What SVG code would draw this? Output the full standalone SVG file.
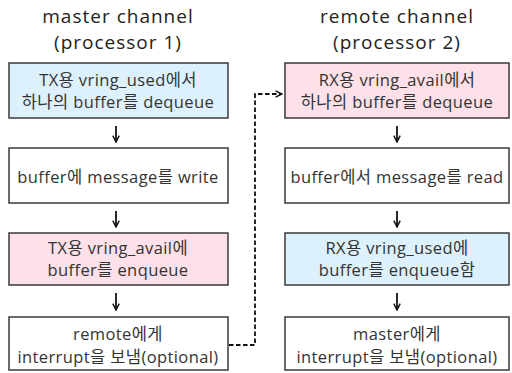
<svg xmlns="http://www.w3.org/2000/svg" width="512" height="373" viewBox="0 0 512 373">
<defs>
<style>
.box{stroke:#3a3a3a;stroke-width:1.5}
.w{fill:#ffffff}
.b{fill:#ddf1fc}
.p{fill:#fde0e8}
text{font-family:"Open Sans","Noto Sans CJK KR",sans-serif;fill:#333333;text-anchor:middle;dominant-baseline:central}
.t{font-size:19px;fill:#222222;letter-spacing:1px}
.l{font-size:16.5px;letter-spacing:0.4px}
.arr{stroke:#111111;stroke-width:1.8;fill:none}
.dash{stroke:#111111;stroke-width:1.8;fill:none;stroke-dasharray:4.5 2.5}
</style>
<marker id="ah" viewBox="0 0 10 10" refX="9" refY="5" markerWidth="8" markerHeight="8" markerUnits="userSpaceOnUse" orient="auto">
<path d="M1,1 L9,5 L1,9" fill="none" stroke="#111" stroke-width="1.8"/>
</marker>
</defs>
<rect width="512" height="373" fill="#ffffff"/>
<g id="title-master"><text class="t" x="118" y="15.5">master channel</text><text class="t" x="118" y="41.5">(processor 1)</text></g>
<g id="title-remote"><text class="t" x="397" y="15.5">remote channel</text><text class="t" x="397" y="41.5">(processor 2)</text></g>
<g id="m1"><rect class="box b" x="9" y="63" width="219" height="55"/><text class="l" x="118" y="79">TX용 vring_used에서</text><text class="l" x="118" y="101">하나의 buffer를 dequeue</text></g>
<g id="m2"><rect class="box w" x="9" y="148" width="219" height="55"/><text class="l" x="118" y="176">buffer에 message를 write</text></g>
<g id="m3"><rect class="box p" x="9" y="233" width="219" height="52"/><text class="l" x="118" y="247">TX용 vring_avail에</text><text class="l" x="118" y="269">buffer를 enqueue</text></g>
<g id="m4"><rect class="box w" x="9" y="317" width="219" height="53"/><text class="l" x="118" y="333">remote에게</text><text class="l" x="118" y="356">interrupt을 보냄(optional)</text></g>
<g id="r1"><rect class="box p" x="285" y="63" width="224" height="55"/><text class="l" x="397" y="79">RX용 vring_avail에서</text><text class="l" x="397" y="101">하나의 buffer를 dequeue</text></g>
<g id="r2"><rect class="box w" x="285" y="148" width="224" height="55"/><text class="l" x="397" y="176">buffer에서 message를 read</text></g>
<g id="r3"><rect class="box b" x="285" y="233" width="224" height="52"/><text class="l" x="397" y="247">RX용 vring_used에</text><text class="l" x="397" y="269">buffer를 enqueue함</text></g>
<g id="r4"><rect class="box w" x="285" y="317" width="224" height="53"/><text class="l" x="397" y="333">master에게</text><text class="l" x="397" y="356">interrupt을 보냄(optional)</text></g>
<g id="connectors">
<line class="arr" x1="116" y1="126" x2="116" y2="142" marker-end="url(#ah)"/>
<line class="arr" x1="116" y1="211" x2="116" y2="227" marker-end="url(#ah)"/>
<line class="arr" x1="116" y1="293" x2="116" y2="310" marker-end="url(#ah)"/>
<line class="arr" x1="397" y1="126" x2="397" y2="142" marker-end="url(#ah)"/>
<line class="arr" x1="397" y1="211" x2="397" y2="227" marker-end="url(#ah)"/>
<line class="arr" x1="397" y1="293" x2="397" y2="310" marker-end="url(#ah)"/>
<path class="dash" d="M229,345 H255 V94 H282" marker-end="url(#ah)"/>
</g>
</svg>
